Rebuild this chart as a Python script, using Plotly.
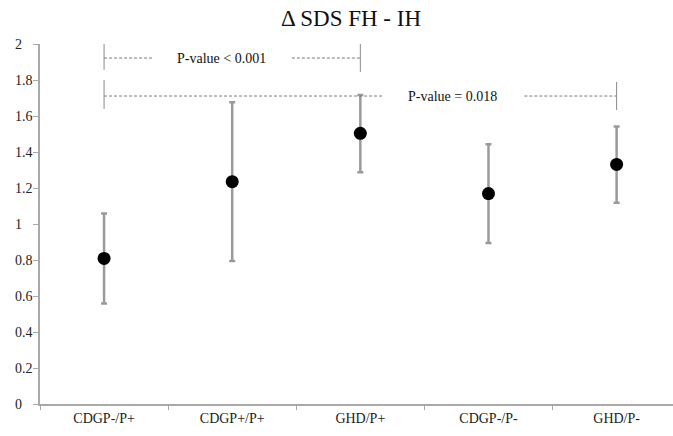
import plotly.graph_objects as go

categories = ["CDGP-/P+", "CDGP+/P+", "GHD/P+", "CDGP-/P-", "GHD/P-"]
means = [0.809, 1.235, 1.504, 1.169, 1.331]
upper = [1.059, 1.676, 1.717, 1.443, 1.541]
lower = [0.559, 0.794, 1.287, 0.894, 1.118]

y_tick_values = [0, 0.2, 0.4, 0.6, 0.8, 1.0, 1.2, 1.4, 1.6, 1.8, 2.0]
y_tick_labels = ["0", "0.2", "0.4", "0.6", "0.8", "1", "1.2", "1.4", "1.6", "1.8", "2"]

title_text = "Δ SDS FH - IH"

# significance brackets: (from index, to index, level, label)
bracket_from = [0, 0]
bracket_to = [2, 4]
bracket_level = [1.922, 1.711]
bracket_label = ["P-value < 0.001", "P-value = 0.018"]

FONT = "Liberation Serif"
AXIS_COLOR = "#a9a9a9"
BAR_COLOR = "#9a9a9a"

err_plus = [u - m for u, m in zip(upper, means)]
err_minus = [m - l for m, l in zip(means, lower)]

fig = go.Figure()
fig.add_trace(go.Scatter(
    x=categories, y=means, mode="markers",
    marker=dict(color="black", size=13),
    error_y=dict(type="data", symmetric=False, array=err_plus, arrayminus=err_minus,
                 color=BAR_COLOR, thickness=2.5, width=3),
    showlegend=False, cliponaxis=False, hoverinfo="skip",
))

shapes = []
annotations = []
# bracket geometry (layout only)
seg_breaks = [(0.38, 1.466), (2.175, 3.28)]
text_pos = [0.92, 2.72]
vert_spans = [((1.856, 2.011), (1.845, 2.011)), ((1.639, 1.800), (1.633, 1.789))]
for i in range(len(bracket_from)):
    x0, x1, yl = bracket_from[i], bracket_to[i], bracket_level[i]
    g0, g1 = seg_breaks[i]
    dash = dict(color="#7a7a7a", width=1, dash="3px,2px")
    shapes.append(dict(type="line", xref="x", yref="y", x0=x0, x1=g0, y0=yl, y1=yl, line=dash))
    shapes.append(dict(type="line", xref="x", yref="y", x0=g1, x1=x1, y0=yl, y1=yl, line=dash))
    (a0, a1), (b0, b1) = vert_spans[i]
    solid = dict(color="#8a8a8a", width=1)
    shapes.append(dict(type="line", xref="x", yref="y", x0=x0, x1=x0, y0=a0, y1=a1, line=solid))
    shapes.append(dict(type="line", xref="x", yref="y", x0=x1, x1=x1, y0=b0, y1=b1, line=solid))
    annotations.append(dict(x=text_pos[i], y=yl, xref="x", yref="y", text=bracket_label[i],
                            showarrow=False, font=dict(family=FONT, size=14, color="#111"),
                            xanchor="center", yanchor="middle"))

for v, t in zip(y_tick_values, y_tick_labels):
    annotations.append(dict(x=0, y=v, xref="paper", yref="y", text=t, showarrow=False,
                            xanchor="left", yanchor="middle", xshift=-27,
                            font=dict(family=FONT, size=14, color="#222")))

# title drawn as a paper-anchored annotation in the serif face
annotations.append(dict(x=0.522, y=1 - 18 / 436, xref="paper", yref="paper", text=title_text,
                        showarrow=False, xanchor="center", yanchor="middle",
                        font=dict(family=FONT, size=23, color="#111")))

fig.update_layout(
    width=673, height=436,
    margin=dict(l=40, r=0, t=44, b=32),
    font=dict(family=FONT, color="#222"),
    paper_bgcolor="white", plot_bgcolor="white",
    xaxis=dict(type="category", range=[-0.5, 4.44], tickson="boundaries", ticks="outside",
               ticklen=4, tickcolor=AXIS_COLOR, showline=True, linecolor=AXIS_COLOR, linewidth=1.5,
               showgrid=False, zeroline=False,
               tickfont=dict(family=FONT, size=14, color="#222")),
    yaxis=dict(range=[0, 2], tickvals=y_tick_values, showticklabels=False, ticks="outside",
               ticklen=5, tickcolor=AXIS_COLOR, showline=True, linecolor=AXIS_COLOR, linewidth=1.5,
               showgrid=False, zeroline=False),
    shapes=shapes, annotations=annotations,
)
# place title annotation in container coordinates
fig.layout.annotations[-1].update(yref="paper", y=1 + (44 - 18) / 360, x=(351 - 40) / 633)

fig.write_html("out.html", config={"displayModeBar": False},
               post_script="document.body.style.margin='0';document.body.style.overflow='hidden';")
